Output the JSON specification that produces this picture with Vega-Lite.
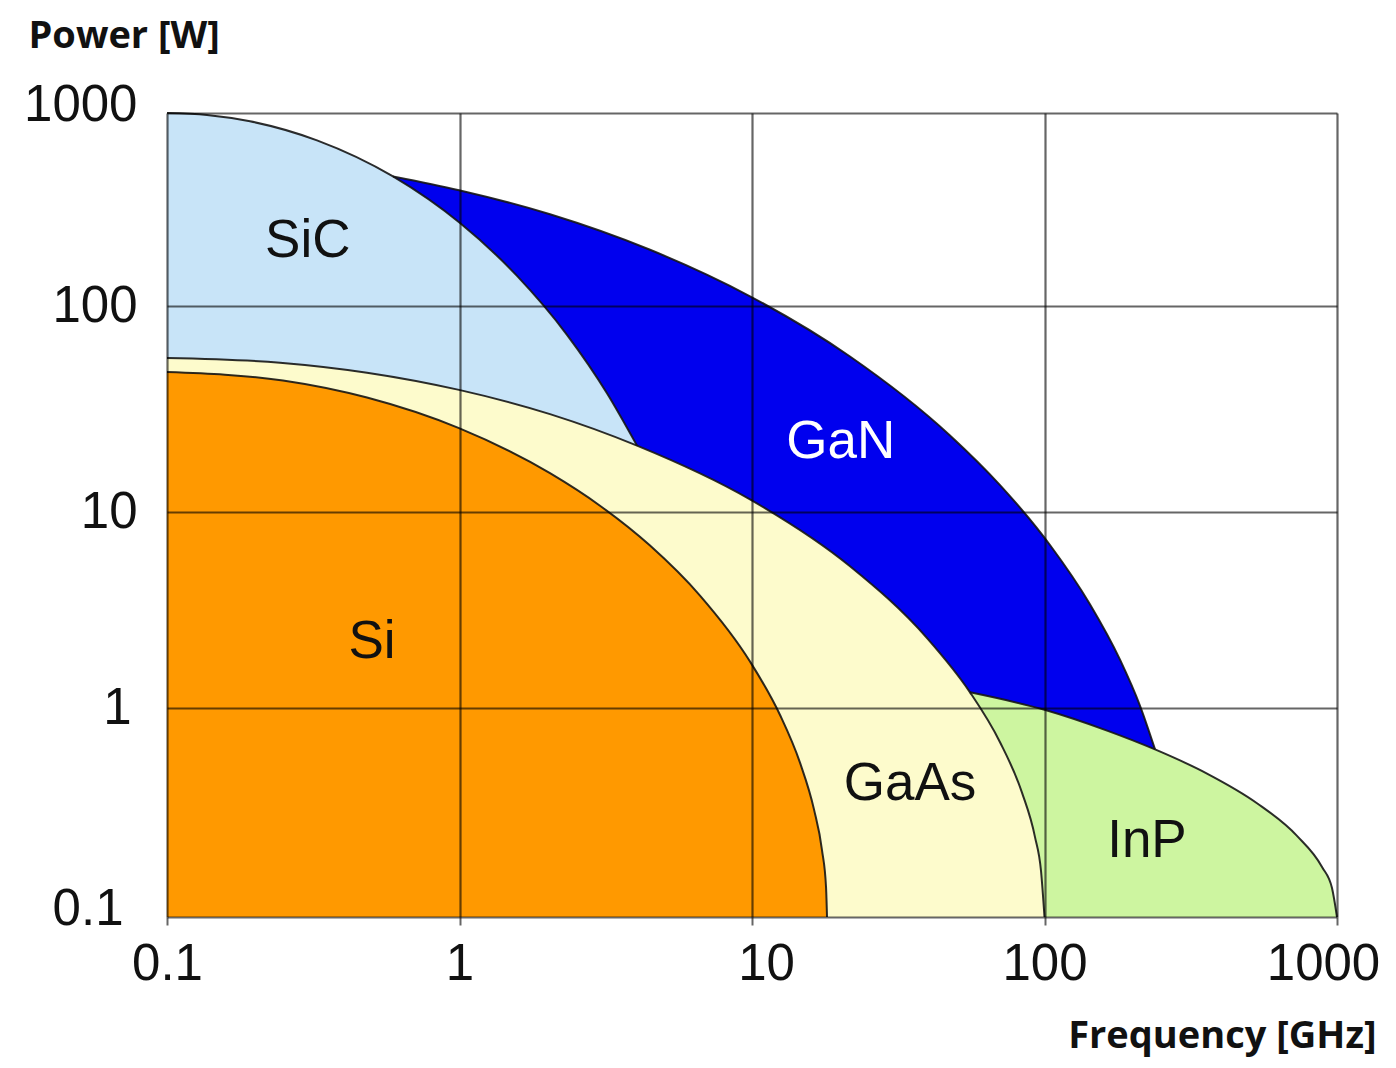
{
  "$schema": "https://vega.github.io/schema/vega-lite/v6.json",
  "width": 1170,
  "height": 804,
  "autosize": {"type": "none"},
  "padding": {"left": 167, "top": 113, "right": 59, "bottom": 151},
  "background": "white",
  "config": {"view": {"stroke": null}},
  "datasets": {
    "curves": [
      {"material": "SiC", "freq": 0.1, "power": 1000},
      {"material": "SiC", "freq": 0.137, "power": 977.6},
      {"material": "SiC", "freq": 0.1922, "power": 905.7},
      {"material": "SiC", "freq": 0.3257, "power": 721.2},
      {"material": "SiC", "freq": 0.5925, "power": 468.9},
      {"material": "SiC", "freq": 1.004, "power": 268.9},
      {"material": "SiC", "freq": 1.573, "power": 143.2},
      {"material": "SiC", "freq": 2.331, "power": 72.47},
      {"material": "SiC", "freq": 3.193, "power": 37.73},
      {"material": "SiC", "freq": 4.045, "power": 21.0},
      {"material": "GaN", "freq": 0.5925, "power": 468.9},
      {"material": "GaN", "freq": 0.9961, "power": 398.1},
      {"material": "GaN", "freq": 2.039, "power": 298.7},
      {"material": "GaN", "freq": 4.481, "power": 195.6},
      {"material": "GaN", "freq": 9.844, "power": 112.3},
      {"material": "GaN", "freq": 21.63, "power": 56.87},
      {"material": "GaN", "freq": 47.52, "power": 23.54},
      {"material": "GaN", "freq": 70.46, "power": 13.51},
      {"material": "GaN", "freq": 104.4, "power": 6.785},
      {"material": "GaN", "freq": 143.0, "power": 3.385},
      {"material": "GaN", "freq": 181.2, "power": 1.764},
      {"material": "GaN", "freq": 212.1, "power": 1.026},
      {"material": "GaN", "freq": 238.7, "power": 0.6336},
      {"material": "GaAs", "freq": 0.1, "power": 55.93},
      {"material": "GaAs", "freq": 0.2434, "power": 53.06},
      {"material": "GaAs", "freq": 0.4828, "power": 47.45},
      {"material": "GaAs", "freq": 0.9961, "power": 39.15},
      {"material": "GaAs", "freq": 2.039, "power": 29.87},
      {"material": "GaAs", "freq": 4.045, "power": 21.0},
      {"material": "GaAs", "freq": 9.844, "power": 11.51},
      {"material": "GaAs", "freq": 21.63, "power": 5.284},
      {"material": "GaAs", "freq": 39.67, "power": 2.273},
      {"material": "GaAs", "freq": 55.64, "power": 1.202},
      {"material": "GaAs", "freq": 70.46, "power": 0.6861},
      {"material": "GaAs", "freq": 83.76, "power": 0.3937},
      {"material": "GaAs", "freq": 92.8, "power": 0.2412},
      {"material": "GaAs", "freq": 97.28, "power": 0.1664},
      {"material": "GaAs", "freq": 100, "power": 0.1},
      {"material": "InP", "freq": 55.64, "power": 1.202},
      {"material": "InP", "freq": 100, "power": 0.9804},
      {"material": "InP", "freq": 163.6, "power": 0.7797},
      {"material": "InP", "freq": 238.7, "power": 0.6336},
      {"material": "InP", "freq": 359.4, "power": 0.4856},
      {"material": "InP", "freq": 532.7, "power": 0.3503},
      {"material": "InP", "freq": 729.8, "power": 0.2444},
      {"material": "InP", "freq": 888.9, "power": 0.1734},
      {"material": "InP", "freq": 961.4, "power": 0.1375},
      {"material": "InP", "freq": 1000, "power": 0.1},
      {"material": "Si", "freq": 0.1, "power": 47.82},
      {"material": "Si", "freq": 0.2492, "power": 43.48},
      {"material": "Si", "freq": 0.4828, "power": 35.93},
      {"material": "Si", "freq": 0.9961, "power": 25.52},
      {"material": "Si", "freq": 2.039, "power": 15.43},
      {"material": "Si", "freq": 3.022, "power": 10.73},
      {"material": "Si", "freq": 4.481, "power": 6.74},
      {"material": "Si", "freq": 6.641, "power": 3.746},
      {"material": "Si", "freq": 9.844, "power": 1.727},
      {"material": "Si", "freq": 12.47, "power": 0.9259},
      {"material": "Si", "freq": 14.59, "power": 0.5475},
      {"material": "Si", "freq": 16.29, "power": 0.3272},
      {"material": "Si", "freq": 17.35, "power": 0.2092},
      {"material": "Si", "freq": 17.91, "power": 0.1392},
      {"material": "Si", "freq": 18.05, "power": 0.1}
    ],
    "labels": [
      {"label": "SiC", "freq": 0.303, "power": 225},
      {"label": "GaN", "freq": 20.1, "power": 22.61},
      {"label": "Si", "freq": 0.502, "power": 2.249},
      {"label": "GaAs", "freq": 34.7, "power": 0.4472},
      {"label": "InP", "freq": 224, "power": 0.2387}
    ]
  },
  "encoding": {
    "x": {
      "field": "freq",
      "type": "quantitative",
      "scale": {"type": "log", "domain": [0.1, 1000], "nice": false},
      "axis": {
        "values": [0.1, 1, 10, 100, 1000],
        "format": "~g",
        "grid": true,
        "gridColor": "black",
        "gridOpacity": 0.6,
        "gridWidth": 2.2,
        "domain": false,
        "ticks": true,
        "tickSize": 8,
        "tickColor": "black",
        "tickOpacity": 0.6,
        "tickWidth": 2,
        "labelFont": "Liberation Sans",
        "labelFontSize": 51,
        "labelColor": "#111111",
        "labelPadding": 14,
        "labelFlush": false,
        "labelOverlap": false,
        "labelOffset": {"condition": [{"test": "datum.value == 10", "value": 14}, {"test": "datum.value == 1000", "value": -14}], "value": 0},
        "title": "Frequency [GHz]",
        "titleFont": "Open Sans",
        "titleFontWeight": "bold",
        "titleFontSize": 38,
        "titleColor": "#111111",
        "titleAlign": "right",
        "titleBaseline": "alphabetic",
        "titleX": 1209,
        "titleY": 130,
        "zindex": 1
      }
    },
    "y": {
      "field": "power",
      "type": "quantitative",
      "scale": {"type": "log", "domain": [0.1, 1, 10, 100, 1000], "range": [804, 595, 399, 193, 0], "nice": false},
      "axis": {
        "values": [0.1, 1, 10, 100, 1000],
        "format": "~g",
        "grid": true,
        "gridColor": "black",
        "gridOpacity": 0.6,
        "gridWidth": 2.2,
        "domain": false,
        "ticks": false,
        "labelFont": "Liberation Sans",
        "labelFontSize": 51,
        "labelColor": "#111111",
        "labelBaseline": "middle",
        "labelPadding": {"condition": [{"test": "datum.value < 0.5", "value": 44}, {"test": "datum.value < 5", "value": 36}], "value": 30},
        "labelOffset": {"condition": {"test": "datum.value > 500 || datum.value < 0.5", "value": -8}, "value": 0},
        "labelFlush": false,
        "labelOverlap": false,
        "title": "Power [W]",
        "titleFont": "Open Sans",
        "titleFontWeight": "bold",
        "titleFontSize": 38,
        "titleColor": "#111111",
        "titleAngle": 0,
        "titleAlign": "left",
        "titleBaseline": "alphabetic",
        "titleX": -139,
        "titleY": -66,
        "zindex": 1
      }
    }
  },
  "layer": [
    {
      "data": {"name": "curves"},
      "transform": [{"filter": "datum.material === 'GaN'"}],
      "mark": {"type": "area", "interpolate": "monotone", "color": "#0000ee", "opacity": 1},
      "encoding": {"y2": {"datum": 0.1}}
    },
    {
      "data": {"name": "curves"},
      "transform": [{"filter": "datum.material === 'SiC'"}],
      "mark": {"type": "area", "interpolate": "monotone", "color": "#c8e4f8", "opacity": 1},
      "encoding": {"y2": {"datum": 0.1}}
    },
    {
      "data": {"name": "curves"},
      "transform": [{"filter": "datum.material === 'InP'"}],
      "mark": {"type": "area", "interpolate": "monotone", "color": "#cdf5a0", "opacity": 1},
      "encoding": {"y2": {"datum": 0.1}}
    },
    {
      "data": {"name": "curves"},
      "transform": [{"filter": "datum.material === 'GaAs'"}],
      "mark": {"type": "area", "interpolate": "monotone", "color": "#fdfbcc", "opacity": 1},
      "encoding": {"y2": {"datum": 0.1}}
    },
    {
      "data": {"name": "curves"},
      "transform": [{"filter": "datum.material === 'Si'"}],
      "mark": {"type": "area", "interpolate": "monotone", "color": "#ff9900", "opacity": 1},
      "encoding": {"y2": {"datum": 0.1}}
    },
    {
      "data": {"name": "curves"},
      "mark": {"type": "line", "interpolate": "monotone", "color": "#151515", "strokeWidth": 2, "opacity": 0.9},
      "encoding": {"detail": {"field": "material"}}
    },
    {
      "data": {"name": "labels"},
      "mark": {"type": "text", "font": "Liberation Sans", "fontSize": 53, "align": "center", "baseline": "middle", "dy": 3},
      "encoding": {
        "text": {"field": "label"},
        "color": {"condition": {"test": "datum.label === 'GaN'", "value": "white"}, "value": "#111111"}
      }
    }
  ]
}
